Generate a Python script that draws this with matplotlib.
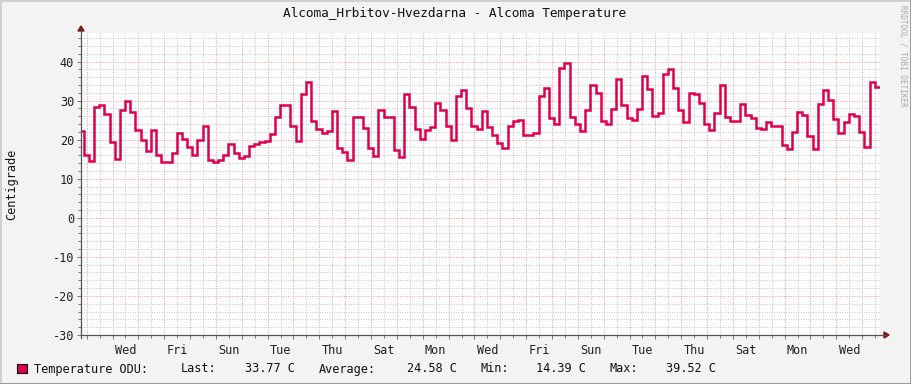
import matplotlib
matplotlib.use("Agg")
import matplotlib.pyplot as plt
from matplotlib.lines import Line2D
from matplotlib.patches import Rectangle, Polygon
import numpy as np

# ---- data ----
# temperature samples, one every 0.2 day (4.8 h); first sample partial
temps = [22.1, 16.2, 14.5, 28.3, 28.8, 26.5, 19.4, 15.0, 27.5, 29.9,
         27.0, 22.5, 19.9, 17.0, 22.5, 16.2, 14.3, 14.3, 16.6, 21.6,
         20.1, 18.1, 16.2, 19.9, 23.6, 14.8, 14.4, 14.7, 16.2, 18.9,
         16.6, 15.3, 15.8, 18.4, 18.9, 19.3, 19.6, 21.4, 25.8, 28.9,
         28.9, 23.5, 19.6, 31.6, 34.7, 24.7, 22.8, 21.7, 22.1, 27.3,
         17.9, 16.8, 14.7, 25.8, 25.8, 23.0, 17.9, 15.8, 27.7, 25.8,
         25.8, 17.3, 15.6, 31.6, 28.3, 22.8, 20.1, 22.4, 23.2, 29.4,
         27.7, 23.4, 19.8, 31.1, 32.7, 28.1, 23.5, 22.8, 27.3, 23.2,
         21.1, 19.1, 17.9, 23.5, 24.8, 25.1, 21.1, 21.1, 21.6, 31.1,
         33.2, 25.6, 23.9, 38.3, 39.5, 25.8, 23.9, 22.1, 27.7, 33.9,
         31.9, 24.7, 24.1, 27.9, 35.4, 28.8, 25.6, 25.1, 27.9, 36.2,
         33.0, 26.0, 26.8, 36.7, 38.0, 33.2, 27.7, 24.5, 31.9, 31.6,
         29.4, 23.9, 22.4, 26.8, 33.9, 25.8, 24.8, 24.8, 29.0, 26.4,
         25.5, 23.1, 22.8, 24.5, 23.5, 23.4, 18.7, 17.5, 21.9, 27.0,
         26.2, 20.9, 17.5, 29.0, 32.8, 30.2, 25.4, 21.7, 24.5, 26.6,
         26.0, 21.9, 18.1, 34.7, 33.4]
day_labels = ["Wed", "Fri", "Sun", "Tue", "Thu", "Sat", "Mon", "Wed",
              "Fri", "Sun", "Tue", "Thu", "Sat", "Mon", "Wed"]
y_ticks = [-30, -20, -10, 0, 10, 20, 30, 40]
title = "Alcoma_Hrbitov-Hvezdarna - Alcoma Temperature"
ylabel = "Centigrade"
legend_name = "Temperature ODU:"
stat_names = ["Last:", "Average:", "Min:", "Max:"]
stat_values = ["33.77 C", "24.58 C", "14.39 C", "39.52 C"]

# time axis in days from the left edge of the graph
t_end = 30.91
first_edge = 0.104
step = 0.2
first_midnight = 0.22

W, H = 911, 384
BG = "#F3F3F3"
LINE = "#DD0050"
MONO = "DejaVu Sans Mono"
FS = 8.6

fig = plt.figure(figsize=(W / 100, H / 100), dpi=100, facecolor=BG)
L, R, T, B = 81, 880, 33, 335
ax = fig.add_axes([L / W, 1 - B / H, (R - L) / W, (B - T) / H])
ax.set_facecolor("white")
for s in ax.spines.values():
    s.set_visible(False)

edges = np.concatenate([[0.0], first_edge + step * np.arange(len(temps))])
edges = np.append(edges[:len(temps)], t_end)

ax.set_xlim(0, t_end)
ax.set_ylim(-30, 47.3)

midnights = [first_midnight + k for k in range(31) if first_midnight + k < t_end]
noons = [first_midnight + 0.5 + k for k in range(31) if first_midnight + 0.5 + k < t_end]
ax.set_xticks(midnights)
ax.set_xticks(noons, minor=True)
ax.set_xticklabels([])
ax.set_yticks(y_ticks)
ax.set_yticklabels([str(v) for v in y_ticks], fontfamily=MONO, fontsize=FS, color="#222222")
ax.set_yticks([v for v in range(-30, 48, 2) if v % 10 != 0], minor=True)

ax.tick_params(axis="both", which="both", direction="out", color="#777777", width=0.7)
ax.tick_params(axis="both", which="major", length=3)
ax.tick_params(axis="both", which="minor", length=2)
ax.tick_params(axis="y", which="major", pad=2)

ax.grid(True, which="minor", color="#C4C4C4", linestyle=(0, (1, 1.5)), linewidth=0.7)
ax.grid(True, which="major", color="#F09898", linestyle=(0, (1, 1.5)), linewidth=0.7)
ax.set_axisbelow(True)

ax.stairs(temps, edges, baseline=None, color=LINE, linewidth=1.8, zorder=3)

# day labels centred at noon of every second day
label_pos = [first_midnight + 1.5 + 2 * k for k in range(len(day_labels))]
for x, lab in zip(label_pos, day_labels):
    ax.text(x, -0.03, lab, transform=ax.get_xaxis_transform(), ha="center", va="top",
            fontfamily=MONO, fontsize=FS, color="#222222")

def fx(px):
    return px / W

def fy(py):
    return 1 - py / H

# axes lines with arrows
fig.add_artist(Line2D([fx(L), fx(886)], [fy(B), fy(B)], color="#555555", lw=0.9))
fig.add_artist(Line2D([fx(L), fx(L)], [fy(B + 3), fy(29)], color="#555555", lw=0.9))
fig.add_artist(Polygon([[fx(884), fy(332)], [fx(889), fy(B)], [fx(884), fy(338)]],
                       closed=True, color="#7F1010", transform=fig.transFigure))
fig.add_artist(Polygon([[fx(78), fy(31)], [fx(L), fy(26)], [fx(84), fy(31)]],
                       closed=True, color="#7F1010", transform=fig.transFigure))

# title, y label, watermark
fig.text(fx(455), fy(14), title, ha="center", va="center", fontfamily=MONO,
         fontsize=9.2, color="#111111")
fig.text(fx(12), fy(184), ylabel, ha="center", va="center", rotation=90,
         fontfamily=MONO, fontsize=FS, color="#111111")
fig.text(fx(903), fy(5), "RRDTOOL / TOBI OETIKER", ha="center", va="top", rotation=270,
         fontfamily=MONO, fontsize=5.5, color="#AAAAAA")

# legend
fig.add_artist(Rectangle((fx(17), fy(373)), fx(10), 9 / H, facecolor=LINE,
                         edgecolor="black", lw=0.8, transform=fig.transFigure))
fig.text(fx(34), fy(369), legend_name, ha="left", va="center", fontfamily=MONO,
         fontsize=FS, color="#111111")
name_x = [181, 319, 481, 610]
val_x = [245, 407, 536, 666]
for nx, n, vx, v in zip(name_x, stat_names, val_x, stat_values):
    fig.text(fx(nx), fy(369), n, ha="left", va="center", fontfamily=MONO,
             fontsize=FS, color="#111111")
    fig.text(fx(vx), fy(369), v, ha="left", va="center", fontfamily=MONO,
             fontsize=FS, color="#111111")

# 3D frame of the image
fig.add_artist(Line2D([0, 1], [fy(0.5), fy(0.5)], color="#CFCFCF", lw=1.4))
fig.add_artist(Line2D([fx(0.5), fx(0.5)], [0, 1], color="#CFCFCF", lw=1.4))
fig.add_artist(Line2D([0, 1], [fy(H - 0.5), fy(H - 0.5)], color="#9A9A9A", lw=1.4))
fig.add_artist(Line2D([fx(W - 0.5), fx(W - 0.5)], [0, 1], color="#9A9A9A", lw=1.4))

fig.savefig("out.png", dpi=100, facecolor=BG)
